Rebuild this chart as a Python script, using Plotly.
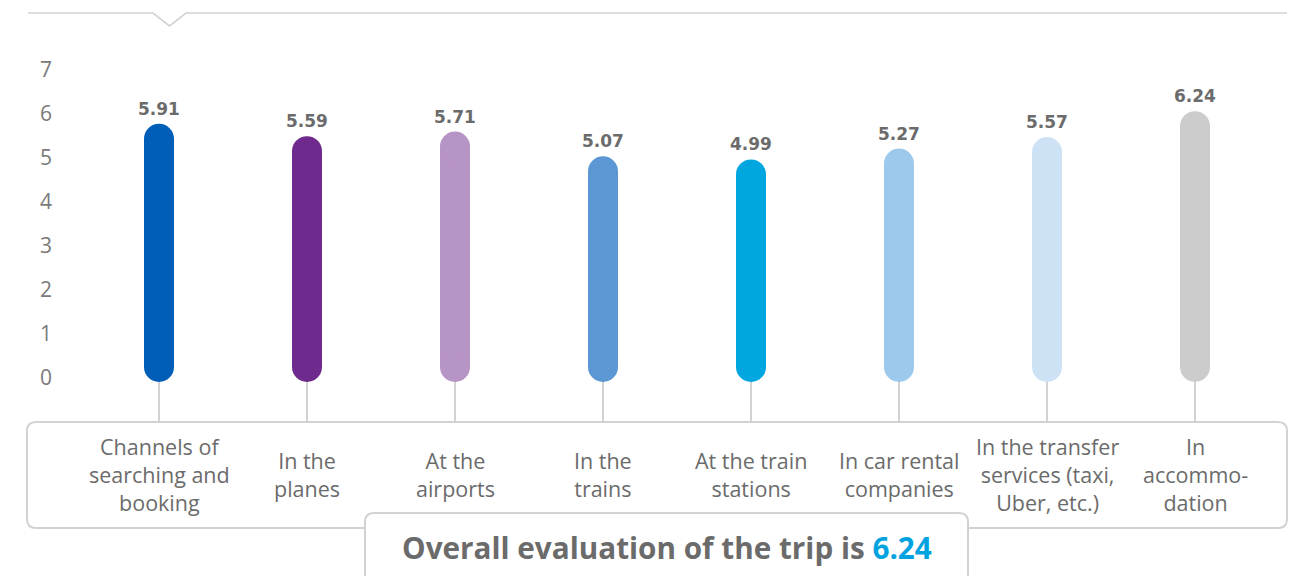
import plotly.graph_objects as go

# ---- data ----
categories = [
    "Channels of<br>searching and<br>booking",
    "In the<br>planes",
    "At the<br>airports",
    "In the<br>trains",
    "At the train<br>stations",
    "In car rental<br>companies",
    "In the transfer<br>services (taxi,<br>Uber, etc.)",
    "In<br>accommo-<br>dation",
]
scores = [5.91, 5.59, 5.71, 5.07, 4.99, 5.27, 5.57, 6.24]
bar_colors = ["#005EB8", "#6E2A8C", "#B794C6", "#5B97D3", "#00A6E0",
              "#9DCAEC", "#CDE2F5", "#CCCCCC"]
y_ticks = [0, 1, 2, 3, 4, 5, 6, 7]
overall_score = 6.24

# ---- layout helpers ----
W, H = 1290, 576
FONT = "Open Sans"
GREY_TXT = "#6b6b6b"
LINE_C = "#d2d2d2"
X_LEFT = 53  # left pixel of the plotting area (y tick labels sit left of it)


def fx(px):
    return px / W


def fy(py):
    return 1 - py / H


def rounded_rect(x0, y0, x1, y1, r):
    pts = [
        f"M {fx(x0 + r)},{fy(y0)}",
        f"L {fx(x1 - r)},{fy(y0)}",
        f"Q {fx(x1)},{fy(y0)} {fx(x1)},{fy(y0 + r)}",
        f"L {fx(x1)},{fy(y1 - r)}",
        f"Q {fx(x1)},{fy(y1)} {fx(x1 - r)},{fy(y1)}",
        f"L {fx(x0 + r)},{fy(y1)}",
        f"Q {fx(x0)},{fy(y1)} {fx(x0)},{fy(y1 - r)}",
        f"L {fx(x0)},{fy(y0 + r)}",
        f"Q {fx(x0)},{fy(y0)} {fx(x0 + r)},{fy(y0)}",
        "Z",
    ]
    return " ".join(pts)


fig = go.Figure()

# invisible trace so the primary (tick) axis is part of a live subplot
fig.add_trace(go.Scatter(
    x=[0] * len(y_ticks), y=y_ticks, mode="markers",
    marker=dict(opacity=0), hoverinfo="skip", showlegend=False,
))

idx = list(range(len(categories)))
for i, (v, c) in enumerate(zip(scores, bar_colors)):
    fig.add_trace(go.Scatter(
        x=[i, i], y=[0, v], yaxis="y2", mode="lines+markers",
        line=dict(color=c, width=30),
        marker=dict(color=c, size=30, line=dict(width=0)),
        hoverinfo="skip", showlegend=False,
    ))

shapes = []
# top line with notch
shapes.append(dict(
    type="path", xref="paper", yref="paper",
    path=(f"M {fx(28)},{fy(13)} L {fx(153)},{fy(13)} L {fx(169.5)},{fy(26)} "
          f"L {fx(186)},{fy(13)} L {fx(1287)},{fy(13)}"),
    line=dict(color=LINE_C, width=1.6), layer="above",
))
# connector lines
for i in idx:
    shapes.append(dict(type="line", xref="x", yref="paper",
                       x0=i, x1=i, y0=fy(380), y1=fy(422),
                       line=dict(color=LINE_C, width=2), layer="below"))
# category box
shapes.append(dict(type="path", xref="paper", yref="paper",
                   path=rounded_rect(27, 422, 1287, 528, 9),
                   line=dict(color=LINE_C, width=2), fillcolor="rgba(0,0,0,0)",
                   layer="above"))
# overall box
shapes.append(dict(type="path", xref="paper", yref="paper",
                   path=rounded_rect(365, 513, 968, 600, 9),
                   line=dict(color=LINE_C, width=2), fillcolor="white",
                   layer="above"))

annotations = []
for i, v in enumerate(scores):
    annotations.append(dict(
        x=i, y=v, xref="x", yref="y2", yshift=30, showarrow=False,
        text=f"<b>{v:.2f}</b>",
        font=dict(family="DejaVu Sans", size=17, color=GREY_TXT),
        yanchor="middle",
    ))
for i, lab in enumerate(categories):
    annotations.append(dict(
        x=i, y=fy(474), xref="x", yref="paper", showarrow=False,
        text=lab, align="center", yanchor="middle",
        font=dict(family=FONT, size=21.5, color=GREY_TXT),
    ))
annotations.append(dict(
    x=fx(666.5), y=fy(547), xref="paper", yref="paper", showarrow=False,
    text=(f"<b>Overall evaluation of the trip is "
          f"<span style='color:#00A3DF'>{overall_score:.2f}</span></b>"),
    font=dict(family=FONT, size=29.7, color=GREY_TXT),
    xanchor="center", yanchor="middle",
))

# plot area: y pixels 40..400, x pixels X_LEFT..1290
top_px, bot_px = 40, 400
ph = bot_px - top_px
y_r0 = -(bot_px - 378) / 44.1
y_r1 = y_r0 + ph / 44.1
y2_r0 = -(bot_px - 367) / 38.6
y2_r1 = y2_r0 + ph / 38.6
x_r0 = -(159 - X_LEFT) / 148.0
x_r1 = x_r0 + (W - X_LEFT) / 148.0

fig.update_layout(
    width=W, height=H,
    margin=dict(l=0, r=0, t=0, b=0, pad=0),
    paper_bgcolor="white", plot_bgcolor="white",
    xaxis=dict(domain=[X_LEFT / W, 1], range=[x_r0, x_r1], showgrid=False,
               zeroline=False, showticklabels=False, showline=False,
               automargin=False),
    yaxis=dict(domain=[fy(bot_px), fy(top_px)], range=[y_r0, y_r1],
               anchor="x", side="left",
               tickmode="array", tickvals=y_ticks,
               ticktext=[str(t) for t in y_ticks],
               showticklabels=True, ticks="",
               showgrid=False, zeroline=False, showline=False,
               tickfont=dict(family=FONT, size=21, color="#7a7a7a"),
               automargin=False),
    yaxis2=dict(domain=[fy(bot_px), fy(top_px)], range=[y2_r0, y2_r1],
                overlaying="y", visible=False, automargin=False),
    shapes=shapes,
    annotations=annotations,
)

fig.write_html("out.html", config={"displayModeBar": False},
               post_script="document.body.style.margin='0';")
